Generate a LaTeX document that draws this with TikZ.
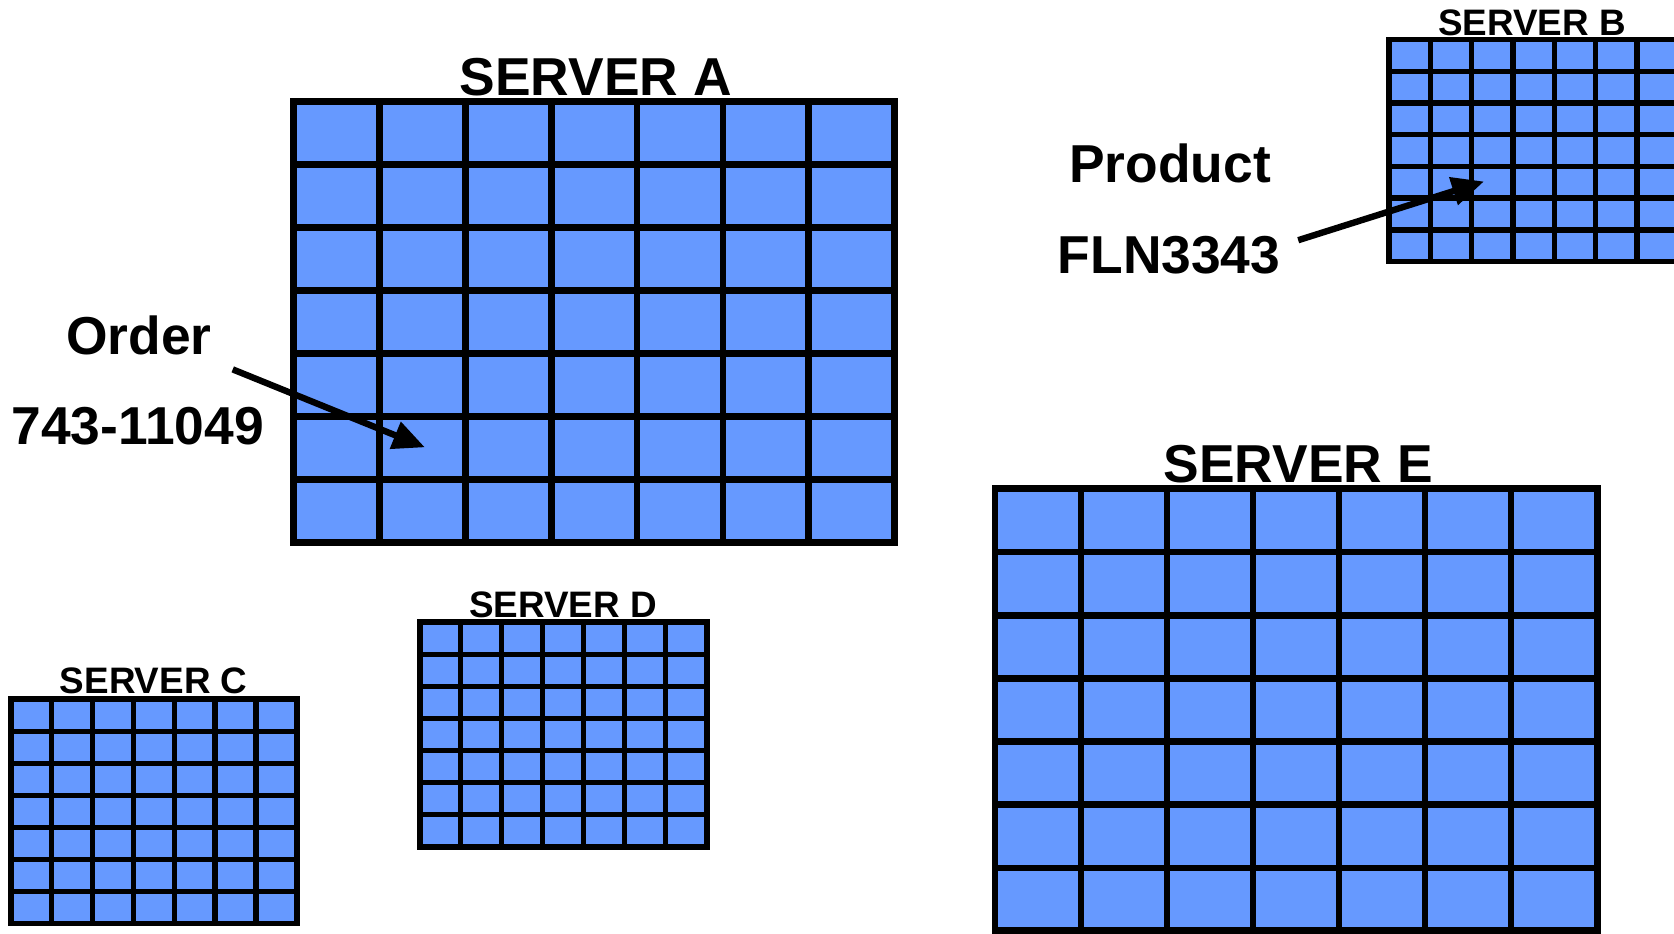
\documentclass[tikz,border=0pt]{standalone}
\usepackage{fontspec}
\setmainfont{Liberation Sans}
\usetikzlibrary{arrows.meta}
\definecolor{cellblue}{RGB}{102,153,255}

% A 7x7 table of blue cells: #1,#2 top-left, #3,#4 bottom-right,
% #5 frame width, #6 rule width
\newcommand\srvgrid[6]{%
  \fill[cellblue] (#1,#2) rectangle (#3,#4);
  \foreach \k in {1,...,6} {
    \draw[line width=#6] ({#1+(#3-#1)*\k/7},#2) -- ({#1+(#3-#1)*\k/7},#4);
    \draw[line width=#6] (#1,{#2+(#4-#2)*\k/7}) -- (#3,{#2+(#4-#2)*\k/7});
  }
  \draw[line width=#5] (#1,#2) rectangle (#3,#4);
}

\tikzset{
  bigtitle/.style={font=\bfseries\fontsize{50}{60}\selectfont, inner sep=0pt, anchor=base},
  smalltitle/.style={font=\bfseries\fontsize{34.5}{40}\selectfont, inner sep=0pt, anchor=base},
  label/.style={font=\bfseries\fontsize{50}{60}\selectfont, inner sep=0pt, anchor=base},
  ptr/.style={line width=6pt, -{Triangle[length=30pt,width=26pt]}},
}

\begin{document}
\begin{tikzpicture}[x=1pt, y=-1pt]
  \useasboundingbox (0,0) rectangle (1568,874);
  \fill[white] (0,0) rectangle (1568,874);

  % large servers
  \srvgrid{275}{95}{838}{508}{6.5pt}{6.2pt}
  \srvgrid{932}{458}{1496}{872}{6.5pt}{6.2pt}
  % small servers
  \srvgrid{1301}{37}{1572}{245}{5.5pt}{5pt}
  \srvgrid{10}{655}{278}{865}{5.5pt}{5pt}
  \srvgrid{393}{583}{662}{793}{5.5pt}{5pt}

  % titles
  \node[bigtitle] (ta) at (558,89) {SERVER A};
  \node[bigtitle] (te) at (1216,452) {SERVER E};
  \node[smalltitle] (tb) at (1435,33) {SERVER B};
  \node[smalltitle] (tc) at (144,650) {SERVER C};
  \node[smalltitle] (td) at (527.5,578) {SERVER D};

  % record labels
  \node[label] (ord) at (130,332) {Order};
  \node[label] (ordno) at (129,416) {743-11049};
  \node[label] (prod) at (1096,171) {Product};
  \node[label] (prodno) at (1095,256) {FLN3343};

  % pointers into the tables
  \coordinate (ordfrom) at (218,346);
  \coordinate (ordto) at (398,419);
  \coordinate (prodfrom) at (1216,225);
  \coordinate (prodto) at (1390,170);
  \draw[ptr] (ordfrom) -- (ordto);
  \draw[ptr] (prodfrom) -- (prodto);
\end{tikzpicture}
\end{document}
